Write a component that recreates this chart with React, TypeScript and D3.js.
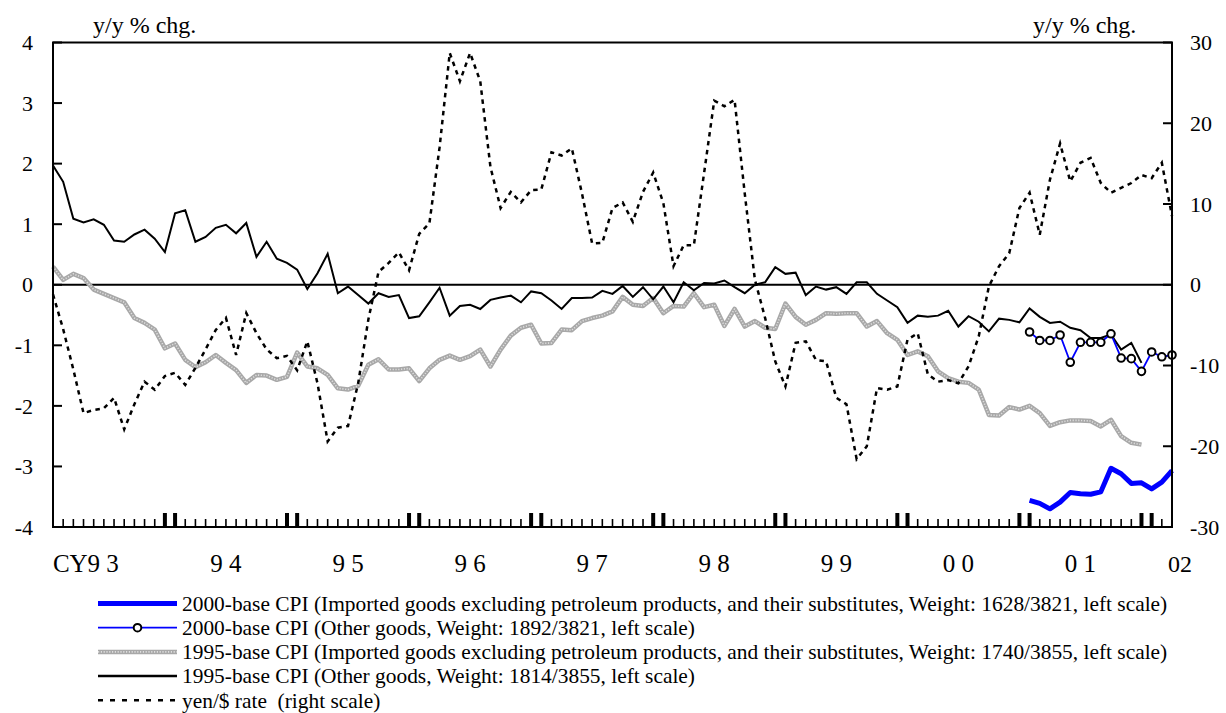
import React from "react";
import * as d3 from "d3";

// month index 0 = Jan 1993 ... 110 = Mar 2002
const other95: number[] = [
  1.97, 1.70, 1.09, 1.03, 1.08, 0.99, 0.73, 0.71, 0.83, 0.91, 0.76, 0.54,
  1.18, 1.23, 0.71, 0.79, 0.94, 0.99, 0.85, 1.02, 0.46, 0.71, 0.43, 0.36,
  0.25, -0.07, 0.19, 0.51, -0.14, -0.03, -0.17, -0.31, -0.14, -0.20, -0.17, -0.55,
  -0.52, -0.29, -0.05, -0.51, -0.35, -0.33, -0.40, -0.25, -0.21, -0.18, -0.29, -0.11,
  -0.14, -0.26, -0.40, -0.22, -0.22, -0.21, -0.10, -0.15, -0.02, -0.20, -0.04, -0.24,
  -0.03, -0.29, 0.04, -0.09, 0.03, 0.02, 0.07, -0.04, -0.14, 0.00, 0.04, 0.29,
  0.18, 0.20, -0.17, -0.03, -0.08, -0.04, -0.15, 0.04, 0.04, -0.15, -0.26, -0.37,
  -0.63, -0.51, -0.53, -0.51, -0.43, -0.69, -0.52, -0.61, -0.77, -0.56, -0.58, -0.62,
  -0.39, -0.53, -0.63, -0.61, -0.71, -0.75, -0.88, -0.88, -0.82, -1.07, -0.96, -1.29,
];

const imported95: number[] = [
  0.30, 0.08, 0.18, 0.11, -0.08, -0.15, -0.22, -0.29, -0.55, -0.63, -0.74, -1.05,
  -0.97, -1.24, -1.36, -1.28, -1.16, -1.29, -1.41, -1.62, -1.49, -1.50, -1.57, -1.52,
  -1.12, -1.35, -1.38, -1.49, -1.71, -1.73, -1.67, -1.32, -1.23, -1.40, -1.40, -1.38,
  -1.59, -1.38, -1.24, -1.17, -1.24, -1.18, -1.07, -1.35, -1.07, -0.84, -0.71, -0.66,
  -0.97, -0.96, -0.74, -0.75, -0.60, -0.55, -0.51, -0.44, -0.20, -0.33, -0.35, -0.22,
  -0.47, -0.35, -0.36, -0.14, -0.37, -0.33, -0.68, -0.40, -0.69, -0.60, -0.71, -0.73,
  -0.31, -0.53, -0.66, -0.58, -0.47, -0.48, -0.47, -0.47, -0.69, -0.60, -0.80, -0.91,
  -1.16, -1.10, -1.18, -1.43, -1.54, -1.60, -1.62, -1.73, -2.15, -2.16, -2.02, -2.06,
  -2.00, -2.12, -2.33, -2.27, -2.24, -2.24, -2.25, -2.34, -2.23, -2.50, -2.61, -2.64,
];

const yenRate: number[] = [
  -1.2, -5.5, -10.5, -15.9, -15.5, -15.3, -14.0, -17.9, -14.8, -12.0, -13.0, -11.3,
  -10.9, -12.4, -10.3, -8.0, -5.6, -4.1, -8.7, -3.5, -6.0, -8.0, -9.1, -8.8,
  -10.6, -7.0, -12.2, -19.4, -17.7, -17.5, -12.2, -4.3, 1.6, 2.7, 4.0, 1.8,
  6.3, 7.6, 17.0, 28.7, 25.2, 28.7, 25.2, 14.6, 9.5, 11.5, 10.2, 11.7,
  11.8, 16.4, 16.0, 16.9, 11.3, 5.1, 5.2, 9.5, 10.2, 7.8, 11.5, 13.9,
  10.1, 2.3, 4.9, 4.9, 13.8, 22.8, 22.1, 22.9, 11.3, 0.6, -4.1, -9.5,
  -12.6, -7.2, -7.0, -9.3, -9.5, -14.0, -14.8, -21.6, -20.0, -12.8, -13.0, -12.6,
  -6.8, -6.0, -11.1, -12.0, -11.8, -12.2, -10.1, -6.4, -0.2, 2.3, 3.9, 9.5,
  11.4, 6.2, 13.0, 17.5, 12.8, 15.1, 15.7, 12.6, 11.4, 12.0, 12.6, 13.6,
  13.2, 15.1, 8.5,
];

// 2000-base series start at Jan 2001 (index 96)
const start2000 = 96;
const imported00: number[] = [
  -3.56, -3.61, -3.70, -3.59, -3.43, -3.45, -3.46, -3.42, -3.03, -3.12, -3.28, -3.27, -3.37, -3.26, -3.07,
];
const other00: number[] = [
  -0.78, -0.92, -0.92, -0.83, -1.28, -0.95, -0.95, -0.95, -0.81, -1.21, -1.22, -1.43, -1.11, -1.19, -1.16,
];

const leftTicks: number[] = [4, 3, 2, 1, 0, -1, -2, -3, -4];
const rightTicks: number[] = [30, 20, 10, 0, -10, -20, -30];
const yearLabels: string[] = ["CY9 3", "9 4", "9 5", "9 6", "9 7", "9 8", "9 9", "0 0", "0 1"];
const lastLabel = "02";
const unitLabel = "y/y % chg.";
const legendLabels: string[] = [
  "2000-base CPI (Imported goods excluding petroleum products, and their substitutes, Weight: 1628/3821, left scale)",
  "2000-base CPI (Other goods, Weight: 1892/3821, left scale)",
  "1995-base CPI (Imported goods excluding petroleum products, and their substitutes, Weight: 1740/3855, left scale)",
  "1995-base CPI (Other goods, Weight: 1814/3855, left scale)",
  "yen/$ rate  (right scale)",
];
const nMonths = 110;

const FONT = "Liberation Serif, Times New Roman, serif";

export default function App() {
  const L = 53, R = 1172, T = 42.5, B = 527;
  const x = d3.scaleLinear().domain([0, nMonths]).range([L, R]);
  const yL = d3.scaleLinear().domain([-4, 4]).range([B, T]);
  const yR = d3.scaleLinear().domain([-30, 30]).range([B, T]);

  const lineL = d3.line<[number, number]>().x((d) => x(d[0])).y((d) => yL(d[1]));
  const lineR = d3.line<[number, number]>().x((d) => x(d[0])).y((d) => yR(d[1]));

  const pts = (arr: number[], off = 0): [number, number][] => arr.map((v, i) => [i + off, v]);

  const monthIdx = d3.range(0, nMonths + 1);
  const blue = "#0000ff";

  const legendY = (k: number) => 603.5 + k * 24.2;
  const lx1 = 98, lx2 = 177;
  const tf = { fontFamily: FONT, whiteSpace: "pre" as const };

  return (
    <svg width={1226} height={713} style={{ position: "absolute", left: 0, top: 0, background: "#fff", fontFamily: FONT }}>
      <rect width={1226} height={713} fill="#fff" />
      {/* zero line */}
      <line x1={L} x2={R} y1={yL(0)} y2={yL(0)} stroke="#000" strokeWidth={2} />

      {/* series */}
      <path d={lineL(pts(imported95)) || ""} fill="none" stroke="#a8a8a8" strokeWidth={4.5} strokeLinejoin="round" />
      <path d={lineL(pts(imported95)) || ""} fill="none" stroke="#dedede" strokeWidth={1.6} strokeDasharray="1.2 1.6" strokeLinejoin="round" />
      <path d={lineR(pts(yenRate)) || ""} fill="none" stroke="#000" strokeWidth={2.5} strokeDasharray="4.5 4.5" />
      <path d={lineL(pts(other95)) || ""} fill="none" stroke="#000" strokeWidth={2} strokeLinejoin="miter" />
      <path d={lineL(pts(imported00, start2000)) || ""} fill="none" stroke={blue} strokeWidth={5} strokeLinejoin="round" />
      <path d={lineL(pts(other00, start2000)) || ""} fill="none" stroke={blue} strokeWidth={1.8} />
      {pts(other00, start2000).map((d, i) => (
        <circle key={i} cx={x(d[0])} cy={yL(d[1])} r={3.8} fill="#fff" stroke="#000" strokeWidth={2} />
      ))}

      {/* frame */}
      <rect x={L} y={T} width={R - L} height={B - T} fill="none" stroke="#000" strokeWidth={2} />

      {/* month ticks */}
      {monthIdx.map((i) => {
        const thick = i % 12 === 11 || (i % 12 === 0 && i > 0);
        return (
          <line key={i} x1={x(i)} x2={x(i)} y1={B} y2={B - (thick ? 14 : 8)} stroke="#000" strokeWidth={thick ? 4 : 1.6} />
        );
      })}

      {/* left ticks */}
      {leftTicks.map((v) => (
        <g key={"l" + v}>
          <line x1={L} x2={L + 9} y1={yL(v)} y2={yL(v)} stroke="#000" strokeWidth={2} />
          <text x={33} y={yL(v)} dy="0.35em" textAnchor="end" fontSize={22} style={tf}>{v}</text>
        </g>
      ))}
      {/* right ticks */}
      {rightTicks.map((v) => (
        <g key={"r" + v}>
          <line x1={R - 9} x2={R} y1={yR(v)} y2={yR(v)} stroke="#000" strokeWidth={2} />
          <text x={1190} y={yR(v)} dy="0.35em" textAnchor="start" fontSize={22} style={tf}>{v}</text>
        </g>
      ))}

      {/* unit labels */}
      <text x={93} y={33} fontSize={24} style={tf}>{unitLabel}</text>
      <text x={1033} y={33} fontSize={24} style={tf}>{unitLabel}</text>

      {/* year labels */}
      {yearLabels.map((s, k) => (
        k === 0 ? (
          <text key={s} x={x(5) + 15} y={572} textAnchor="end" fontSize={25} style={tf}>{s}</text>
        ) : (
          <text key={s} x={x(12 * k + 5)} y={572} textAnchor="middle" fontSize={25} style={tf}>{s}</text>
        )
      ))}
      <text x={x(nMonths) - 4} y={572} textAnchor="start" fontSize={24} style={tf}>{lastLabel}</text>

      {/* legend */}
      <g fontSize={21.4}>
        <line x1={lx1} x2={lx2} y1={legendY(0)} y2={legendY(0)} stroke={blue} strokeWidth={5} />
        <line x1={lx1} x2={lx2} y1={legendY(1)} y2={legendY(1)} stroke={blue} strokeWidth={1.8} />
        <circle cx={(lx1 + lx2) / 2} cy={legendY(1)} r={3.8} fill="#fff" stroke="#000" strokeWidth={2} />
        <line x1={lx1} x2={lx2} y1={legendY(2)} y2={legendY(2)} stroke="#a8a8a8" strokeWidth={4.5} />
        <line x1={lx1} x2={lx2} y1={legendY(2)} y2={legendY(2)} stroke="#dedede" strokeWidth={1.6} strokeDasharray="1.2 1.6" />
        <line x1={lx1} x2={lx2} y1={legendY(3)} y2={legendY(3)} stroke="#000" strokeWidth={2.5} />
        <line x1={lx1} x2={lx2} y1={legendY(4)} y2={legendY(4)} stroke="#000" strokeWidth={2.5} strokeDasharray="5 7" />
        {legendLabels.map((s, k) => (
          <text key={k} x={182} y={legendY(k) + 7.3} style={tf}>{s}</text>
        ))}
      </g>
    </svg>
  );
}
